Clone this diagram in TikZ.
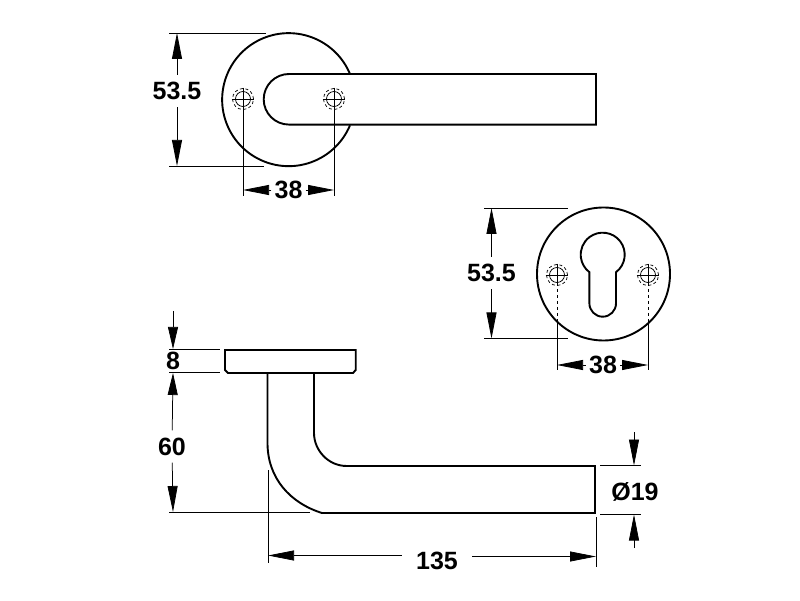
\documentclass[tikz,border=0pt]{standalone}
\usepackage{fontspec}
\setmainfont{Liberation Sans}
\usetikzlibrary{arrows.meta}
\tikzset{
	outline/.style={line width=1.9pt},
	thinline/.style={line width=0.75pt},
	dim/.style={thinline, -{Triangle[length=26pt,width=10pt]}},
	dimshort/.style={thinline, -{Triangle[length=22pt,width=10pt]}},
	label/.style={font=\fontsize{25}{25}\bfseries\selectfont, text height=18pt, text depth=0pt, inner xsep=3pt, inner ysep=7pt},
	screw/.style={circle, draw, thinline, minimum size=15pt, inner sep=0pt}
}
\begin{document}
\begin{tikzpicture}[x=1pt, y=1pt]
	\useasboundingbox (0,0) rectangle (800,600);
	% top view
	\draw[outline] (350,526) arc[start angle=22.7, end angle=337.3, radius=66.5];
	\draw[outline] (596,526) -- (289,526) arc[start angle=90, end angle=270, radius=25.3] -- (596,475.4) -- cycle;
	% escutcheon
	\draw[outline] (603.5,326) circle[radius=66.5];
	\draw[outline] (616,327.8) arc[start angle=-52.8, end angle=232.8, radius=22] -- (589.4,296.6) arc[start angle=180, end angle=360, radius=13.3] -- cycle;
	% side view
	\draw[outline] (225,250) -- (355.7,250) -- (355.7,230) -- (353,227) -- (228,227) -- (225,230) -- cycle;
	\draw[outline] (267.5,227) -- (267.5,157) .. controls (267.5,122) and (290,97) .. (322,87) -- (595,87) -- (595,134) -- (346.7,134) .. controls (328,134) and (314,150) .. (314,167) -- (314,227);
	% screws
	\node[screw] (s1) at (243,501) {};
	\node[screw] (s2) at (334,501) {};
	\node[screw] (s3) at (557,325) {};
	\node[screw] (s4) at (648,325) {};
	\foreach \x in {1,...,4} {
		\draw[thinline, dash pattern=on 3pt off 2.5pt] (s\x) circle[radius=10.5];
		\draw[thinline] ([yshift=3.5pt]s\x.north) -- ([yshift=-3.5pt]s\x.south);
		\draw[thinline] ([xshift=-3.5pt]s\x.west) -- ([xshift=3.5pt]s\x.east);
	}
	% labels
	\node[label] (h1) at (177,509) {53.5};
	\node[label] (w1) at (288.5,410) {38};
	\node[label] (h2) at (491.5,327) {53.5};
	\node[label] (w2) at (603,235) {38};
	\node[label] (t8) at (173,239) {8};
	\node[label] (t60) at (172,153.5) {60};
	\node[label, inner xsep=14pt] (t135) at (437,40) {135};
	\node[label] (t19) at (635,109) {Ø19};
	% extension lines
	\coordinate (h1a) at (177,567);
	\coordinate (h1b) at (177,434);
	\coordinate (w1a) at (243,410);
	\coordinate (w1b) at (334,410);
	\coordinate (h2a) at (491.5,392);
	\coordinate (h2b) at (491.5,261.5);
	\coordinate (w2a) at (557,235);
	\coordinate (w2b) at (648,235);
	\coordinate (t8a) at (173,289);
	\coordinate (t8b) at (173,251);
	\coordinate (t60a) at (173,227);
	\coordinate (t60b) at (173,88);
	\coordinate (la) at (268,44.5);
	\coordinate (lb) at (596,43.5);
	\coordinate (da) at (634,168);
	\coordinate (db) at (634,134.5);
	\coordinate (dc) at (634,52);
	\coordinate (dd) at (634,85.5);
	\draw[thinline] (169,567) -- (266,567);
	\draw[thinline] (169,434) -- (264,434);
	\draw[thinline] (s1.south) -- (243,404);
	\draw[thinline] (s2.south) -- (334,404);
	\draw[thinline] (484,392) -- (568,392);
	\draw[thinline] (484,261.5) -- (568,261.5);
	\draw[thinline, dashed] (s3.south) -- (557,279);
	\draw[thinline, dashed] (s4.south) -- (648,279);
	\draw[thinline] (557,279) -- (557,230);
	\draw[thinline] (648,279) -- (648,230);
	\draw[thinline] (169,251) -- (220,251);
	\draw[thinline] (169,228) -- (220,228);
	\draw[thinline] (169,88) -- (310,88);
	\draw[thinline] (268,130) -- (268,37);
	\draw[thinline] (596,83) -- (596,33);
	\draw[thinline] (600,134.5) -- (641,134.5);
	\draw[thinline] (600,86) -- (641,86);
	% dimensions
	\draw[dim] (h1) -- (h1a);
	\draw[dim] (h1) -- (h1b);
	\draw[dim] (w1) -- (w1a);
	\draw[dim] (w1) -- (w1b);
	\draw[dim] (h2) -- (h2a);
	\draw[dim] (h2) -- (h2b);
	\draw[dim] (w2) -- (w2a);
	\draw[dim] (w2) -- (w2b);
	\draw[dimshort] (t8a) -- (t8b);
	\draw[dimshort] (t60) -- (t60a);
	\draw[dim] (t60) -- (t60b);
	\draw[dim] (t135.west |- la) -- (la);
	\draw[dim] (t135.east |- lb) -- (lb);
	\draw[dim] (da) -- (db);
	\draw[dim] (dc) -- (dd);
\end{tikzpicture}
\end{document}
